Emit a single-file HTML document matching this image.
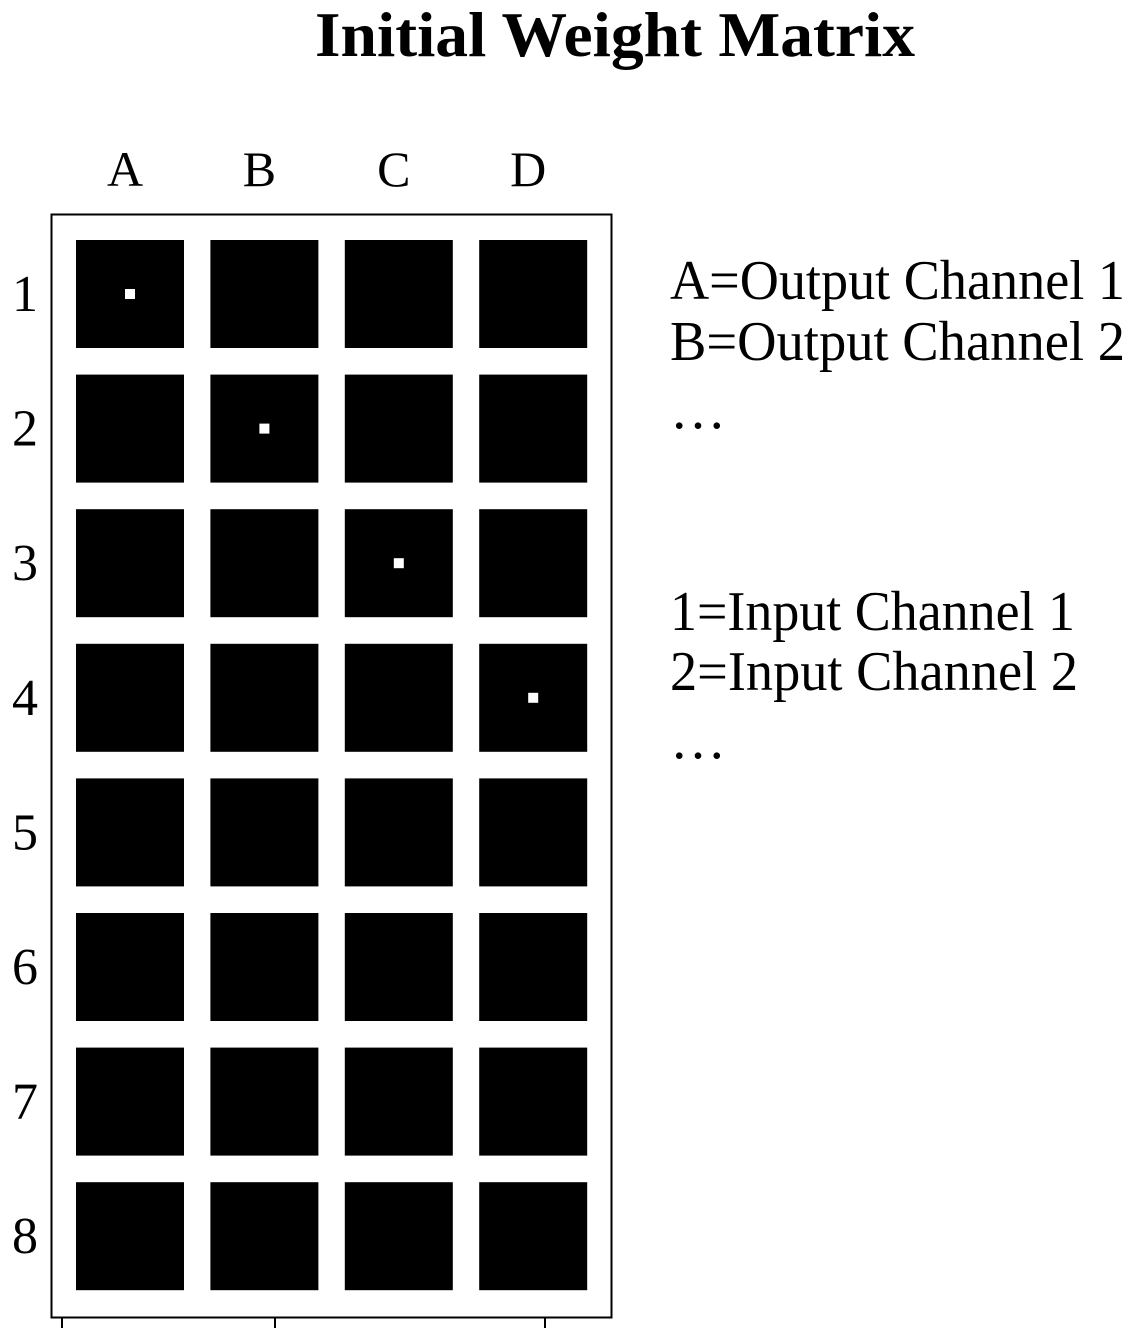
<!DOCTYPE html>
<html><head><meta charset="utf-8"><style>
html,body{margin:0;padding:0;background:#fff;}
svg{display:block;font-family:"Liberation Serif","Times New Roman",serif;}
</style></head><body>
<svg id="chart" width="1146" height="1328" viewBox="0 0 1146 1328">
<text x="615" y="56" text-anchor="middle" font-size="64" font-weight="bold" textLength="600" lengthAdjust="spacingAndGlyphs">Initial Weight Matrix</text>
<rect x="51.5" y="214.5" width="560" height="1103" fill="none" stroke="#000" stroke-width="2"/>
<g>
<line x1="62" y1="1318" x2="62" y2="1328" stroke="#000" stroke-width="2"/>
<line x1="275" y1="1318" x2="275" y2="1328" stroke="#000" stroke-width="2"/>
<line x1="545" y1="1318" x2="545" y2="1328" stroke="#000" stroke-width="2"/>
</g>
<g id="cells"></g>
<g id="collabels"></g>
<g id="rowlabels"></g>
<g font-size="56">
<text x="670" y="299" textLength="455" lengthAdjust="spacingAndGlyphs">A=Output Channel 1</text>
<text x="670" y="360" textLength="455" lengthAdjust="spacingAndGlyphs">B=Output Channel 2</text>
<text x="670" y="428">…</text>
<text x="670" y="630" textLength="405" lengthAdjust="spacingAndGlyphs">1=Input Channel 1</text>
<text x="670" y="690" textLength="408" lengthAdjust="spacingAndGlyphs">2=Input Channel 2</text>
<text x="670" y="758">…</text>
</g>
</svg>
<script>
const columns = ["A","B","C","D"];
const rows = ["1","2","3","4","5","6","7","8"];
// weight values: rows x columns (1 = white center pixel, 0 = none)
const weightsRow1 = [1,0,0,0];
const weightsRow2 = [0,1,0,0];
const weightsRow3 = [0,0,1,0];
const weightsRow4 = [0,0,0,1];
const weightsRow5 = [0,0,0,0];
const weightsRow6 = [0,0,0,0];
const weightsRow7 = [0,0,0,0];
const weightsRow8 = [0,0,0,0];
const weights = [weightsRow1,weightsRow2,weightsRow3,weightsRow4,weightsRow5,weightsRow6,weightsRow7,weightsRow8];

const NS = "http://www.w3.org/2000/svg";
const x0 = 76, colPitch = 134.4, y0 = 240, rowPitch = 134.6, cell = 108, dot = 10;
function xPos(i){ return x0 + i*colPitch; }
function yPos(j){ return y0 + j*rowPitch; }
const gc = document.getElementById("cells");
const gcl = document.getElementById("collabels");
const grl = document.getElementById("rowlabels");
columns.forEach((c,i)=>{
  const t = document.createElementNS(NS,"text");
  t.setAttribute("x", xPos(i)+cell/2 - 5);
  t.setAttribute("y", 186);
  t.setAttribute("text-anchor","middle");
  t.setAttribute("font-size","50");
  t.textContent = c;
  
  
  gcl.appendChild(t);
});
rows.forEach((r,j)=>{
  const t = document.createElementNS(NS,"text");
  t.setAttribute("x", 25);
  t.setAttribute("y", yPos(j)+cell/2+17);
  t.setAttribute("text-anchor","middle");
  t.setAttribute("font-size","52");
  t.textContent = r;
  
  
  grl.appendChild(t);
  columns.forEach((c,i)=>{
    const rc = document.createElementNS(NS,"rect");
    rc.setAttribute("x", xPos(i));
    rc.setAttribute("y", yPos(j));
    rc.setAttribute("width", cell);
    rc.setAttribute("height", cell);
    rc.setAttribute("fill","#000");
    
    
    gc.appendChild(rc);
    if (weights[j][i] > 0) {
      const d = document.createElementNS(NS,"rect");
      d.setAttribute("x", xPos(i)+cell/2-dot/2);
      d.setAttribute("y", yPos(j)+cell/2-dot/2);
      d.setAttribute("width", dot);
      d.setAttribute("height", dot);
      d.setAttribute("fill","#fff");
      d.setAttribute("fill-opacity", weights[j][i]);
      
      
      gc.appendChild(d);
    }
  });
});
</script>
</body></html>
